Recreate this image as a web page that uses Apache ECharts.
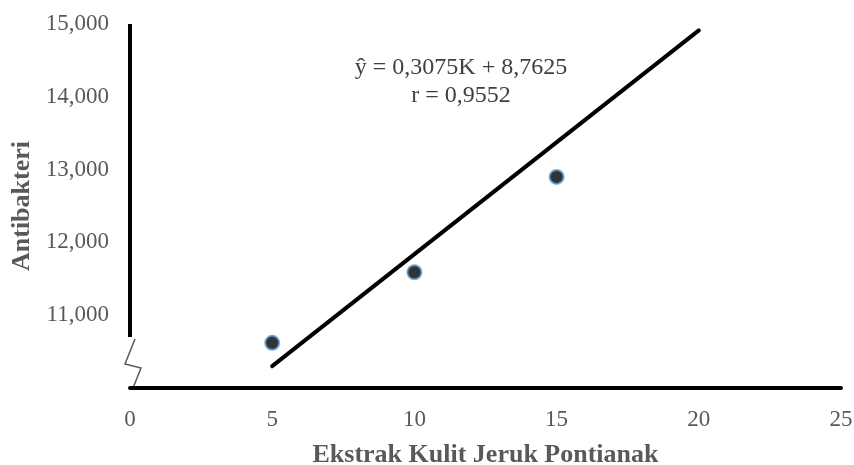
<!DOCTYPE html>
<html>
<head>
<meta charset="utf-8">
<script src="https://cdn.jsdelivr.net/npm/echarts@6/dist/echarts.min.js"></script>
<style>html,body{margin:0;padding:0;background:#fff;}#c{width:854px;height:465px;}</style>
</head>
<body>
<div id="c"></div>
<script>
// Data
const concentrations = [5, 10, 15];
const antibakteri = [10620, 11590, 12900];
const trendX = [5, 20];
const trendY = [10300, 14912.5];
const xTicks = [0, 5, 10, 15, 20, 25];
const yTicks = [11000, 12000, 13000, 14000, 15000];
const yAxisLineRange = [10700, 15000];
const equationText = ['ŷ = 0,3075K + 8,7625', 'r = 0,9552'];

const font = '"Liberation Serif", "Times New Roman", serif';
const gray = '#595959';

const chart = echarts.init(document.getElementById('c'), null, {renderer: 'canvas'});
const option = {
  animation: false,
  backgroundColor: '#fff',
  grid: {left: 130, right: 13, top: 24, bottom: 77, containLabel: false, outerBoundsMode: 'none'},
  xAxis: {
    type: 'value', min: xTicks[0], max: xTicks[xTicks.length - 1], interval: 5,
    axisLine: {show: true, lineStyle: {color: '#000', width: 4}},
    axisTick: {show: false},
    splitLine: {show: false},
    axisLabel: {color: gray, fontFamily: font, fontSize: 23, margin: 20},
    name: 'Ekstrak Kulit Jeruk Pontianak',
    nameLocation: 'middle', nameGap: 54,
    nameTextStyle: {color: gray, fontFamily: font, fontSize: 26, fontWeight: 'bold'}
  },
  yAxis: {
    type: 'value', min: 10000, max: 15000, interval: 1000,
    axisLine: {show: false},
    axisTick: {show: false},
    splitLine: {show: false},
    axisLabel: {
      color: gray, fontFamily: font, fontSize: 23, margin: 21,
      formatter: v => yTicks.indexOf(v) >= 0 ? v.toLocaleString('en-US') : ''
    },
    name: 'Antibakteri',
    nameLocation: 'middle', nameGap: 94, nameRotate: 90,
    nameTextStyle: {color: gray, fontFamily: font, fontSize: 26, fontWeight: 'bold'}
  },
  series: [
    {
      type: 'line',
      data: trendX.map((x, i) => [x, trendY[i]]),
      showSymbol: false, symbol: 'none',
      lineStyle: {color: '#000', width: 4, cap: 'round'},
      z: 2,
      markLine: {
        silent: true, symbol: 'none', label: {show: false},
        lineStyle: {color: '#000', width: 4, type: 'solid'},
        data: [[{coord: [0, yAxisLineRange[0]]}, {coord: [0, yAxisLineRange[1]]}]]
      }
    },
    {
      type: 'scatter',
      data: concentrations.map((x, i) => [x, antibakteri[i]]),
      symbol: 'circle', symbolSize: 14,
      itemStyle: {color: '#000', borderColor: '#5B9BD5', borderWidth: 2},
      z: 3
    }
  ]
};
chart.setOption(option);

const o = chart.convertToPixel({gridIndex: 0}, [0, 10000]);
const t = chart.convertToPixel({gridIndex: 0}, [0, yAxisLineRange[0]]);
chart.setOption({
  graphic: [
    {
      type: 'polyline',
      shape: {points: [[o[0] + 5, t[1] + 2], [o[0] - 5, t[1] + 27], [o[0] + 11, t[1] + 31], [o[0] + 3, o[1]]]},
      style: {stroke: gray, lineWidth: 1.5, fill: null}
    },
    {
      type: 'text', x: 461, y: 54,
      style: {text: equationText.join('\n'), fill: '#404040', font: '24px ' + font, align: 'center', textAlign: 'center', verticalAlign: 'top', lineHeight: 28}
    }
  ]
});
</script>
</body>
</html>
